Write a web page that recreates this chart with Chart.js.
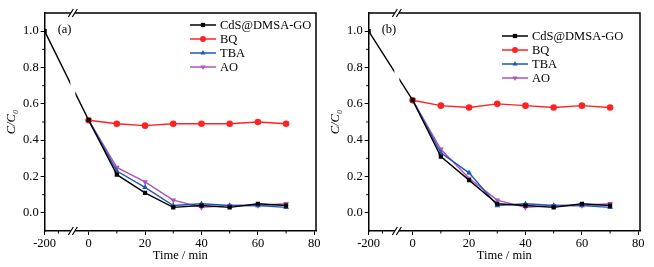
<!DOCTYPE html>
<html>
<head>
<meta charset="utf-8">
<script src="https://cdn.jsdelivr.net/npm/chart.js@4/dist/chart.umd.min.js"></script>
<style>
  body { margin: 0; background: #fff; width: 654px; height: 267px; overflow: hidden; position: relative; }
  .box { position: absolute; top: 0; height: 267px; }
</style>
</head>
<body>
<div class="box" style="left:0;width:327px"><canvas id="chartA"></canvas></div>
<div class="box" style="left:327px;width:327px"><canvas id="chartB"></canvas></div>
<script>
// time points (min); -200 sits left of the axis break
const times = [-200, 0, 10, 20, 30, 40, 50, 60, 70];
const seriesNames = ['CdS@DMSA-GO', 'BQ', 'TBA', 'AO'];

// panel (a)
const cdsA = [1.0, 0.51, 0.21, 0.11, 0.03, 0.04, 0.03, 0.05, 0.04];
const bqA  = [null, 0.51, 0.49, 0.48, 0.49, 0.49, 0.49, 0.50, 0.49];
const tbaA = [null, 0.51, 0.23, 0.14, 0.04, 0.05, 0.04, 0.04, 0.03];
const aoA  = [null, 0.51, 0.25, 0.17, 0.07, 0.03, 0.04, 0.04, 0.05];

// panel (b)
const cdsB = [1.0, 0.62, 0.31, 0.18, 0.05, 0.04, 0.03, 0.05, 0.04];
const bqB  = [null, 0.62, 0.59, 0.58, 0.60, 0.59, 0.58, 0.59, 0.58];
const tbaB = [null, 0.62, 0.33, 0.22, 0.04, 0.05, 0.04, 0.04, 0.03];
const aoB  = [null, 0.62, 0.35, 0.19, 0.07, 0.03, 0.04, 0.04, 0.05];

const xTicks = [-200, 0, 20, 40, 60, 80];
const xMinor = [10, 30, 50, 70];
const yTicks = [0, 0.2, 0.4, 0.6, 0.8, 1.0];
const yMinor = [0.1, 0.3, 0.5, 0.7, 0.9];

// broken axis: everything at -200 is drawn at the left end of the axis
const X_MIN = -15.6, X_MAX = 80.6, X_BREAK = -5.6;
const placeX = t => t <= -200 ? X_MIN : t;

const colors = ['#000000', '#ff2222', '#2255bb', '#aa55bb'];
const shapes = ['rect', 'circle', 'triangle', 'triangle'];
const rotations = [0, 0, 0, 180];
const FONT = 'Liberation Serif';

const makeSet = (vals, i) => ({
  label: seriesNames[i],
  data: times.map((t, k) => ({ x: placeX(t), y: vals[k] })).filter(p => p.y !== null),
  borderColor: colors[i],
  backgroundColor: colors[i],
  borderWidth: 1.4,
  pointStyle: shapes[i],
  rotation: rotations[i],
  pointRadius: i == 0 ? 3 : 3.3,
  pointBorderWidth: 0,
  tension: 0
});

const decor = {
  id: 'decor',
  afterDatasetsDraw(chart, args, o) {
    const { ctx, chartArea: a, scales: { x, y } } = chart;
    ctx.save();
    // gap in the line at the break
    const bx = x.getPixelForValue(X_BREAK);
    ctx.fillStyle = '#fff';
    ctx.fillRect(bx - 2.5, a.top + 1, 5, a.bottom - a.top - 2);
    ctx.restore();
  },
  afterDraw(chart, args, o) {
    const { ctx, chartArea: a, scales: { x, y } } = chart;
    ctx.save();
    ctx.strokeStyle = '#000';
    ctx.lineWidth = 1.5;
    ctx.beginPath();
    ctx.moveTo(a.left, a.top); ctx.lineTo(a.right, a.top); ctx.lineTo(a.right, a.bottom);
    ctx.stroke();
    // minor ticks
    ctx.lineWidth = 1;
    ctx.beginPath();
    xMinor.forEach(v => { const px = x.getPixelForValue(v); ctx.moveTo(px, a.bottom); ctx.lineTo(px, a.bottom + 2.5); });
    ctx.moveTo(x.getPixelForValue(-10.7), a.bottom); ctx.lineTo(x.getPixelForValue(-10.7), a.bottom + 2.5);
    yMinor.forEach(v => { const py = y.getPixelForValue(v); ctx.moveTo(a.left, py); ctx.lineTo(a.left - 2.5, py); });
    ctx.stroke();
    // break marks
    const bx = x.getPixelForValue(X_BREAK);
    [a.top, a.bottom].forEach(yy => {
      ctx.fillStyle = '#fff';
      ctx.fillRect(bx - 2, yy - 2, 4, 4);
      ctx.strokeStyle = '#000';
      ctx.lineWidth = 1.2;
      ctx.beginPath();
      [-2, 2].forEach(d => { ctx.moveTo(bx + d - 2.5, yy + 4); ctx.lineTo(bx + d + 2.5, yy - 4); });
      ctx.stroke();
    });
    // panel label
    ctx.fillStyle = '#000';
    ctx.font = '12.5px "' + FONT + '"';
    ctx.textBaseline = 'middle';
    ctx.textAlign = 'left';
    ctx.fillText(o.tag, a.left + 13, y.getPixelForValue(1.0) - 1);
    // legend
    chart.data.datasets.forEach((ds, i) => {
      const ly = a.top + o.legTop + i * 14;
      const lx = a.right - o.legRight;
      ctx.strokeStyle = ds.borderColor;
      ctx.lineWidth = 1.5;
      ctx.beginPath(); ctx.moveTo(lx, ly); ctx.lineTo(lx + 26, ly); ctx.stroke();
      ctx.fillStyle = ds.backgroundColor;
      Chart.helpers.drawPoint(ctx, { pointStyle: ds.pointStyle, rotation: ds.rotation, radius: 3, borderWidth: 0 }, lx + 13, ly);
      ctx.fillStyle = '#000';
      ctx.fillText(ds.label, lx + 30, ly + 0.5);
    });
    ctx.restore();
  }
};

const makeChart = (id, sets, tag, padLeft, padRight, legRight, legTop) => new Chart(document.getElementById(id), {
  type: 'line',
  data: { datasets: sets },
  plugins: [decor],
  options: {
    responsive: true,
    maintainAspectRatio: false,
    animation: false,
    layout: { padding: { left: padLeft, right: padRight, top: 13, bottom: 4 } },
    plugins: {
      legend: { display: false },
      tooltip: { enabled: false },
      decor: { tag: tag, legRight: legRight, legTop: legTop }
    },
    scales: {
      x: {
        type: 'linear', min: X_MIN, max: X_MAX,
        afterBuildTicks: s => { s.ticks = xTicks.map(t => ({ value: placeX(t) })); },
        ticks: {
          callback: v => v === X_MIN ? '-200' : String(v),
          color: '#000', font: { family: FONT, size: 12.5 }, padding: 1, maxRotation: 0, autoSkip: false
        },
        grid: { drawOnChartArea: false, tickLength: 4, tickColor: '#000', tickWidth: 1 },
        border: { color: '#000', width: 1.5 },
        title: { display: true, text: 'Time / min', color: '#000', font: { family: FONT, size: 12.5 }, padding: { top: -4, bottom: 0 } }
      },
      y: {
        min: -0.1, max: 1.1,
        afterBuildTicks: s => { s.ticks = yTicks.map(v => ({ value: v })); },
        ticks: { callback: v => v.toFixed(1), color: '#000', font: { family: FONT, size: 12.5 }, padding: 2 },
        grid: { drawOnChartArea: false, tickLength: 4, tickColor: '#000', tickWidth: 1 },
        border: { color: '#000', width: 1.5 },
        title: { display: true, text: 'C/C\u2080', color: '#000', font: { family: FONT, size: 12.5, style: 'italic' }, padding: { top: 0, bottom: 2 } }
      }
    }
  }
});

makeChart('chartA', [makeSet(cdsA, 0), makeSet(bqA, 1), makeSet(tbaA, 2), makeSet(aoA, 3)], '(a)', 4, 11, 126, 12);
makeChart('chartB', [makeSet(cdsB, 0), makeSet(bqB, 1), makeSet(tbaB, 2), makeSet(aoB, 3)], '(b)', 1, 14, 138, 23);
</script>
</body>
</html>
